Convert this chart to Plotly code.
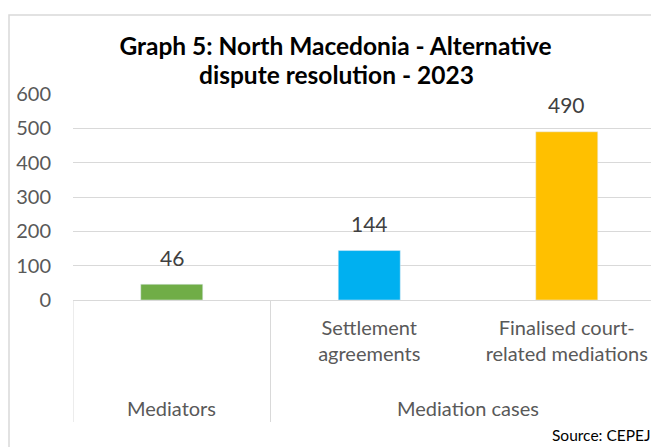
import plotly.graph_objects as go

categories = ["Mediators", "Settlement agreements", "Finalised court-related mediations"]
tick_labels = ["", "Settlement<br>agreements", "Finalised court-<br>related mediations"]
values = [46, 144, 490]
bar_colors = ["#70AD47", "#00B0F0", "#FFC000"]
groups = ["Mediators", "Mediation cases"]
group_centers = [0, 1.5]
group_dividers = [-0.5, 0.5, 2.5]
title_lines = ["Graph 5: North Macedonia - Alternative", "dispute resolution - 2023"]

FONT = "Lato"
W, H = 659, 447
OFF = 8  # page body margin offset
L, R, T, B = 65, 2, 86, 155
plot_w = W - L - R
plot_h = H - T - B

def px_x(page_px):
    return (page_px - OFF - L) / plot_w

def px_y(page_py):
    return (H - B - (page_py - OFF)) / plot_h

fig = go.Figure()
fig.add_trace(go.Bar(
    x=categories, y=values, marker_color=bar_colors,
    showlegend=False, hoverinfo="x+y",
))

annotations = []
# data labels
for c, v in zip(categories, values):
    annotations.append(dict(x=c, xref="x", y=v, yref="y", text=str(v), showarrow=False,
                            xanchor="center", yanchor="middle", yshift=27,
                            font=dict(family=FONT, size=21, color="#404040")))
for g, c in zip(groups, group_centers):
    annotations.append(dict(x=c, xref="x", y=px_y(408), yref="paper",
                            text=g, showarrow=False, xanchor="center", yanchor="middle",
                            font=dict(family=FONT, size=20, color="#595959")))
annotations.append(dict(x=px_x(653), xref="paper", y=px_y(435), yref="paper",
                        text="Source: CEPEJ", showarrow=False, xanchor="right", yanchor="middle",
                        font=dict(family=FONT, size=15.5, color="#000000")))
# second title line
annotations.append(dict(x=px_x(336.5), xref="paper", y=px_y(74), yref="paper",
                        text="<b>" + title_lines[1] + "</b>", showarrow=False,
                        xanchor="center", yanchor="middle",
                        font=dict(family=FONT, size=24.5, color="#000000")))

shapes = []
for d in group_dividers:
    shapes.append(dict(type="line", xref="x", yref="paper", x0=d, x1=d,
                       y0=0, y1=px_y(422), line=dict(color="#D9D9D9", width=1)))
shapes.append(dict(type="rect", xref="paper", yref="paper",
                   x0=px_x(9), x1=1.1, y0=-1.5, y1=px_y(15),
                   line=dict(color="#D9D9D9", width=1.5), layer="below"))

fig.update_layout(
    width=W, height=H,
    margin=dict(l=L, r=R, t=T, b=B),
    paper_bgcolor="white", plot_bgcolor="white",
    title=dict(text="<b>" + title_lines[0] + "</b>",
               x=(335.5 - OFF) / W, xanchor="center", y=1 - (46 - OFF) / H, yanchor="middle",
               font=dict(family=FONT, size=24.5, color="#000000")),
    bargap=0.686,
    xaxis=dict(type="category", tickvals=categories, ticktext=tick_labels,
               range=[-0.5, -0.5 + plot_w / 197.5], showline=True, linecolor="#D9D9D9",
               showgrid=False, ticks="", ticklabelstandoff=10,
               tickfont=dict(family=FONT, size=20, color="#595959")),
    yaxis=dict(range=[0, 600], dtick=100, showgrid=True, gridcolor="#D9D9D9",
               zeroline=False, ticks="", ticklabelstandoff=21,
               tickfont=dict(family=FONT, size=20, color="#595959")),
    annotations=annotations, shapes=shapes,
)

fig.write_html("out.html")
